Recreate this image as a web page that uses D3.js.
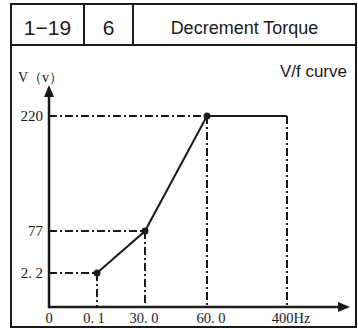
<!DOCTYPE html>
<html><head><meta charset="utf-8">
<script src="https://cdn.jsdelivr.net/npm/d3@7"></script>
<style>body{margin:0;background:#fff}</style>
</head><body>
<script>
const headerCells = ["1\u221219", "6", "Decrement Torque"];
const xTickValues = [0, 0.1, 30, 60, 400];
const xTickLabels = ["0", "0.1", "30.0", "60.0", "400Hz"];
const yTickValues = [2.2, 77, 220];
const yTickLabels = ["2.2", "77", "220"];
const curveF = [0.1, 30, 60, 400];
const curveV = [2.2, 77, 220, 220];
const markerF = [0.1, 30, 60];

const W = 358, H = 329;
const svg = d3.select("body").append("svg").attr("width", W).attr("height", H);
const ink = "#1a1a1a";

// frame
const L = 11, R = 356, T = 4, B = 327, HB = 45;
svg.append("rect").attr("x", L).attr("y", T).attr("width", R - L).attr("height", B - T)
  .attr("fill", "none").attr("stroke", ink).attr("stroke-width", 2);
svg.append("line").attr("x1", L).attr("x2", R).attr("y1", HB).attr("y2", HB).attr("stroke", ink).attr("stroke-width", 2);
const divs = [84, 133];
divs.forEach(d => svg.append("line").attr("x1", d).attr("x2", d).attr("y1", T).attr("y2", HB).attr("stroke", ink).attr("stroke-width", 2));
const cellX = [L, 84, 133, R];
headerCells.forEach((t, i) => {
  svg.append("text").attr("x", (cellX[i] + cellX[i + 1]) / 2).attr("y", i < 2 ? 35 : 34)
    .attr("text-anchor", "middle").attr("font-family", "Liberation Sans, Arial, sans-serif")
    .attr("font-size", i < 2 ? 21 : 18).attr("fill", ink).text(t);
});

// scales (piecewise)
const x = d3.scaleLinear().domain(xTickValues).range([49, 97, 145, 207, 287]);
const y = d3.scaleLinear().domain([0, 2.2, 77, 220]).range([307, 273, 231, 116]);

const dash = "8,3,2,3";
// guide lines
curveF.forEach((f, i) => {
  svg.append("line").attr("x1", x(f)).attr("x2", x(f)).attr("y1", y(curveV[i])).attr("y2", y(0))
    .attr("stroke", ink).attr("stroke-width", 2).attr("stroke-dasharray", dash);
});
yTickValues.forEach((v, i) => {
  svg.append("line").attr("x1", x(0)).attr("x2", x(curveF[i])).attr("y1", y(v)).attr("y2", y(v))
    .attr("stroke", ink).attr("stroke-width", 2).attr("stroke-dasharray", dash);
});

// curve
svg.append("path").datum(curveF.map((f, i) => [f, curveV[i]]))
  .attr("d", d3.line().x(d => x(d[0])).y(d => y(d[1])))
  .attr("fill", "none").attr("stroke", ink).attr("stroke-width", 2);
markerF.forEach((f, i) => svg.append("circle").attr("cx", x(f)).attr("cy", y(curveV[i])).attr("r", 3.5).attr("fill", ink));

// axes
svg.append("line").attr("x1", x(0)).attr("x2", 340).attr("y1", y(0)).attr("y2", y(0)).attr("stroke", ink).attr("stroke-width", 2.5);
svg.append("path").attr("d", `M350,${y(0)} L338,${y(0) - 5} L338,${y(0) + 5} Z`).attr("fill", ink);
svg.append("line").attr("x1", x(0)).attr("x2", x(0)).attr("y1", y(0) + 1.2).attr("y2", 95).attr("stroke", ink).attr("stroke-width", 2.5);
svg.append("path").attr("d", `M${x(0)},85 L${x(0) - 5},97 L${x(0) + 5},97 Z`).attr("fill", ink);

const serif = "Liberation Serif, DejaVu Serif, serif";
// label with widened gap after the decimal point (as in the reference)
function addLabel(sel, str) {
  const k = str.indexOf(".");
  if (k < 0) { sel.text(str); return; }
  sel.append("tspan").text(str.slice(0, k + 1));
  sel.append("tspan").attr("dx", 3.5).text(str.slice(k + 1));
}
const xLabelShift = [0, -3, -1, 4, 4];
xTickValues.forEach((v, i) => {
  const t = svg.append("text").attr("x", x(v) + xLabelShift[i]).attr("y", 323).attr("text-anchor", "middle")
    .attr("font-family", serif).attr("font-size", 14.5).attr("fill", ink);
  addLabel(t, xTickLabels[i]);
});
yTickValues.forEach((v, i) => {
  const t = svg.append("text").attr("x", 43).attr("y", y(v) + 5).attr("text-anchor", "end")
    .attr("font-family", serif).attr("font-size", 15).attr("fill", ink);
  addLabel(t, yTickLabels[i]);
});
svg.append("text").attr("x", 18).attr("y", 82).attr("font-family", serif).attr("font-size", 14)
  .attr("fill", ink).text("V\uFF08v\uFF09");
svg.append("text").attr("x", 347).attr("y", 77).attr("text-anchor", "end")
  .attr("font-family", "Liberation Sans, Arial, sans-serif").attr("font-size", 17).attr("fill", ink).text("V/f curve");
</script>
</body></html>
